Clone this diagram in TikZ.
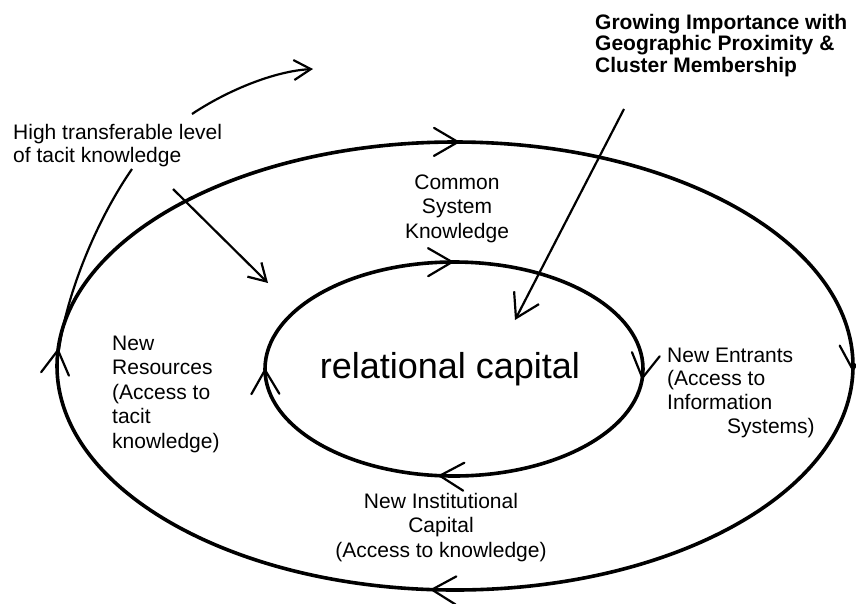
\documentclass[tikz,border=0pt]{standalone}
\usepackage{fontspec}
\setmainfont{Liberation Sans}
\usetikzlibrary{arrows.meta,decorations.markings}

\begin{document}
\begin{tikzpicture}[x=1pt,y=-1pt,
  ell/.style={line width=3.6pt},
  conn/.style={line width=2.2pt, -{Straight Barb[length=17pt,width=20pt]}},
  plain/.style={line width=2.2pt},
  vbarb/.style={line width=2.2pt, line cap=round, line join=miter},
  lbl/.style={inner sep=0pt},
]
\useasboundingbox (0,0) rectangle (856,603);
\def\vmark{\draw[vbarb] (-24,14) -- (0,0) -- (-24,-14);}

% outer ellipse
\draw[ell, postaction={decorate}, decoration={markings,
  mark=at position 0.002 with {\vmark},
  mark=at position 0.2616 with {\vmark},
  mark=at position 0.508 with {\vmark},
  mark=at position 0.7515 with {\vmark}}]
  (455,366) ellipse [x radius=398, y radius=224];

% inner ellipse
\draw[ell, postaction={decorate}, decoration={markings,
  mark=at position 0.0095 with {\vmark},
  mark=at position 0.265 with {\vmark},
  mark=at position 0.499 with {\vmark},
  mark=at position 0.748 with {\vmark}}]
  (454,369) ellipse [x radius=189, y radius=107];

% labels
\node[lbl, anchor=base west, font=\fontsize{21}{23.5}\selectfont] (tacit) at (13,139)
  {\begin{tabular}[t]{@{}l@{}}High transferable level\\of tacit knowledge\end{tabular}};
\node[lbl, anchor=base west, font=\bfseries\fontsize{21}{21.2}\selectfont] (hdr) at (595,29)
  {\begin{tabular}[t]{@{}l@{}}Growing Importance with\\Geographic Proximity \&\\Cluster Membership\end{tabular}};
\node[lbl, anchor=base, font=\fontsize{21}{24.5}\selectfont] (common) at (457,189)
  {\begin{tabular}[t]{@{}c@{}}Common\\System\\Knowledge\end{tabular}};
\node[lbl, anchor=base, font=\fontsize{36}{40}\selectfont] (rc) at (450,378) {relational capital};
\node[lbl, anchor=base west, font=\fontsize{21}{23.7}\selectfont] (entr) at (667,362)
  {\begin{tabular}[t]{@{}l@{}}New Entrants\\(Access to\\Information\\\hspace*{60pt}Systems)\end{tabular}};
\node[lbl, anchor=base west, font=\fontsize{21}{24.5}\selectfont] (res) at (112,350)
  {\begin{tabular}[t]{@{}l@{}}New\\Resources\\(Access to\\tacit\\knowledge)\end{tabular}};
\node[lbl, anchor=base, font=\fontsize{21}{24.5}\selectfont] (inst) at (441,508)
  {\begin{tabular}[t]{@{}c@{}}New Institutional\\Capital\\(Access to knowledge)\end{tabular}};

% connectors
\coordinate (t1) at (192,114);
\coordinate (t1e) at (313,69);
\draw[conn] (t1) .. controls (228,90) and (275,71) .. (t1e);
\coordinate (t2) at (132,169);
\coordinate (t2e) at (59,350);
\draw[plain] (t2) .. controls (98,218) and (67,291) .. (t2e);
\coordinate (t3) at (173,189);
\coordinate (t3e) at (268,283);
\draw[conn] (t3) -- (t3e);
\coordinate (h1) at (624,109);
\coordinate (h1e) at (515,320);
\draw[line width=2.2pt, -{Straight Barb[length=23pt,width=28pt]}] (h1) -- (h1e);
\end{tikzpicture}
\end{document}
